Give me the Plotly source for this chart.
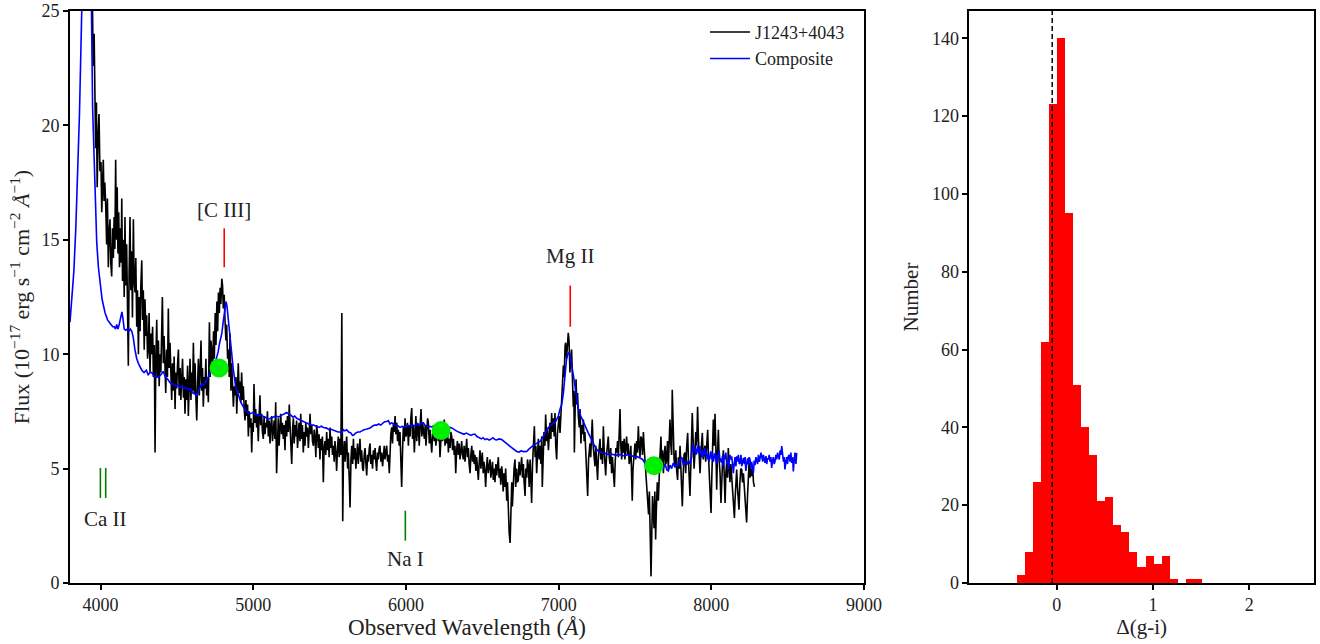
import plotly.graph_objects as go

# ---- spectrum of J1243+4043 (wavelength in A, flux in 1e-17 erg/s/cm2/A)
J1243_POINTS = [
    (3940, 29.0), (3946, 26.5), (3952, 22.6), (3958, 24.0), (3963, 21.1), (3968, 19.0), (3973, 21.0),
    (3978, 17.3), (3984, 19.5), (3990, 20.5), (3996, 18.0), (4003, 18.4), (4008, 16.2), (4013, 18.0),
    (4018, 18.5), (4023, 16.7), (4028, 17.5), (4034, 16.5), (4040, 14.8), (4045, 16.8), (4051, 13.8),
    (4056, 15.3), (4062, 15.9), (4067, 14.0), (4073, 13.4), (4078, 15.5), (4084, 14.2), (4089, 16.0),
    (4094, 14.6), (4099, 18.5), (4104, 15.0), (4109, 17.3), (4114, 14.4), (4119, 16.2), (4124, 13.8),
    (4130, 15.5), (4135, 14.0), (4139, 16.8), (4144, 13.2), (4150, 15.0), (4155, 12.5), (4160, 16.0),
    (4165, 13.0), (4171, 14.8), (4176, 12.0), (4182, 9.5), (4187, 13.5), (4193, 16.0), (4198, 12.8),
    (4204, 14.5), (4209, 11.6), (4215, 15.9), (4220, 13.2), (4226, 12.7), (4231, 14.2), (4237, 11.2),
    (4242, 12.8), (4248, 10.0), (4253, 12.5), (4259, 11.0), (4264, 13.0), (4270, 14.1), (4275, 11.5),
    (4280, 12.8), (4286, 10.2), (4291, 12.4), (4297, 10.8), (4302, 11.7), (4308, 9.8), (4313, 10.3),
    (4318, 11.8), (4324, 9.2), (4330, 10.9), (4335, 10.0), (4341, 11.2), (4346, 9.0), (4352, 10.4),
    (4357, 5.7), (4362, 9.6), (4368, 11.5), (4373, 9.0), (4379, 10.6), (4384, 8.6), (4390, 10.0),
    (4395, 9.2), (4400, 11.0), (4405, 12.5), (4411, 9.6), (4416, 10.8), (4422, 9.5), (4427, 8.3),
    (4433, 10.2), (4438, 9.0), (4444, 12.0), (4449, 9.4), (4455, 10.5), (4460, 8.8), (4466, 8.0),
    (4471, 9.6), (4477, 8.4), (4482, 9.9), (4488, 7.6), (4493, 9.2), (4499, 8.5), (4504, 9.5),
    (4510, 10.2), (4515, 8.2), (4521, 9.4), (4526, 8.0), (4532, 8.7), (4537, 9.8), (4543, 8.1),
    (4548, 9.0), (4553, 7.4), (4559, 8.9), (4564, 8.0), (4570, 9.5), (4575, 7.3), (4581, 8.6),
    (4586, 9.8), (4592, 8.0), (4597, 9.2), (4603, 8.4), (4608, 10.5), (4614, 8.3), (4619, 9.6),
    (4625, 8.0), (4630, 7.1), (4636, 8.8), (4641, 9.8), (4647, 8.2), (4652, 9.3), (4658, 10.6),
    (4663, 8.4), (4668, 9.4), (4673, 7.7), (4679, 9.0), (4684, 8.5), (4690, 9.8), (4695, 8.2),
    (4701, 8.9), (4706, 7.9), (4713, 11.4), (4718, 9.0), (4723, 10.6), (4728, 10.2), (4734, 9.2),
    (4740, 11.0), (4745, 9.8), (4751, 11.8), (4756, 10.4), (4762, 12.3), (4767, 11.0), (4772, 12.7),
    (4778, 11.8), (4783, 12.9), (4788, 12.2), (4794, 13.3), (4799, 13.0), (4804, 12.0), (4810, 12.6),
    (4815, 11.5), (4821, 10.6), (4826, 11.3), (4832, 9.8), (4837, 10.2), (4843, 9.0), (4848, 10.9),
    (4854, 8.4), (4859, 9.6), (4865, 8.8), (4870, 7.7), (4876, 8.6), (4881, 8.2), (4887, 9.0),
    (4892, 7.4), (4897, 8.5), (4902, 9.6), (4908, 8.3), (4913, 8.8), (4919, 7.9), (4924, 9.2),
    (4930, 8.0), (4935, 8.6), (4941, 7.6), (4946, 7.1), (4952, 8.0), (4957, 7.3), (4963, 7.8),
    (4968, 6.4), (4974, 7.5), (4979, 6.8), (4985, 7.2), (4990, 5.7), (4995, 7.0), (5000, 6.6),
    (5005, 8.7), (5011, 7.0), (5016, 7.6), (5022, 6.8), (5027, 7.4), (5033, 6.2), (5038, 7.2),
    (5044, 8.2), (5049, 6.9), (5055, 7.4), (5060, 6.6), (5066, 6.3), (5071, 7.3), (5077, 6.5),
    (5082, 7.0), (5088, 6.8), (5093, 7.5), (5099, 6.4), (5104, 7.1), (5110, 6.1), (5115, 6.9),
    (5121, 7.3), (5126, 6.2), (5132, 6.8), (5137, 7.1), (5142, 6.3), (5147, 7.9), (5153, 4.8),
    (5158, 6.6), (5164, 7.2), (5169, 6.0), (5175, 6.8), (5180, 7.4), (5186, 6.5), (5191, 7.0),
    (5197, 6.3), (5202, 6.9), (5208, 5.8), (5213, 7.1), (5219, 6.4), (5224, 7.3), (5230, 6.6),
    (5236, 7.8), (5241, 6.9), (5247, 6.2), (5252, 5.2), (5258, 6.8), (5263, 7.2), (5268, 6.1),
    (5274, 6.9), (5279, 6.4), (5284, 7.1), (5290, 5.9), (5295, 6.7), (5300, 7.0), (5306, 6.2),
    (5311, 7.4), (5317, 6.3), (5322, 6.9), (5328, 5.7), (5333, 6.6), (5339, 6.0), (5344, 7.0),
    (5350, 6.4), (5355, 6.8), (5361, 5.9), (5366, 6.7), (5372, 7.4), (5377, 6.5), (5383, 6.9),
    (5388, 6.2), (5394, 6.0), (5399, 6.7), (5405, 6.3), (5410, 5.5), (5415, 6.9), (5420, 6.6),
    (5426, 5.9), (5431, 6.5), (5437, 5.4), (5442, 6.3), (5448, 5.8), (5453, 6.4), (5459, 4.4),
    (5464, 5.9), (5470, 6.2), (5475, 5.6), (5481, 6.6), (5486, 5.8), (5492, 6.3), (5497, 5.5),
    (5503, 6.8), (5508, 5.9), (5514, 6.4), (5519, 5.6), (5525, 6.0), (5530, 5.3), (5535, 6.2),
    (5541, 5.7), (5546, 4.9), (5552, 5.9), (5557, 6.4), (5563, 5.5), (5568, 6.3), (5574, 5.6),
    (5580, 11.8), (5586, 2.7), (5591, 5.6), (5597, 6.2), (5602, 5.3), (5607, 6.0), (5612, 6.4),
    (5618, 5.0), (5623, 5.7), (5629, 4.5), (5634, 3.3), (5640, 5.4), (5645, 6.0), (5651, 5.2),
    (5656, 6.3), (5661, 5.4), (5667, 5.9), (5672, 5.0), (5677, 5.5), (5683, 6.1), (5688, 5.2),
    (5694, 5.7), (5699, 6.3), (5705, 5.3), (5710, 5.8), (5716, 5.0), (5721, 4.9), (5727, 5.6),
    (5732, 5.9), (5738, 5.2), (5743, 4.7), (5749, 5.6), (5754, 5.3), (5760, 5.9), (5765, 6.1),
    (5770, 5.2), (5776, 5.6), (5781, 5.0), (5787, 5.8), (5792, 5.4), (5798, 5.9), (5803, 5.3),
    (5808, 4.9), (5814, 5.7), (5819, 5.4), (5825, 5.9), (5830, 6.0), (5836, 5.3), (5841, 5.7),
    (5847, 5.1), (5852, 5.5), (5858, 6.0), (5863, 5.4), (5869, 5.8), (5874, 6.0), (5880, 5.3),
    (5885, 5.6), (5891, 4.8), (5896, 6.0), (5901, 6.5), (5907, 6.8), (5912, 6.1), (5918, 7.0),
    (5923, 6.6), (5929, 7.3), (5934, 6.5), (5940, 7.0), (5945, 6.2), (5950, 6.7), (5956, 6.0),
    (5961, 6.6), (5967, 5.6), (5972, 4.2), (5978, 5.8), (5983, 6.85), (5989, 6.2), (5994, 7.2),
    (6000, 6.4), (6005, 6.56), (6010, 7.0), (6016, 6.0), (6021, 6.9), (6027, 6.4), (6032, 7.2),
    (6038, 7.65), (6043, 6.3), (6049, 6.9), (6055, 5.7), (6060, 6.6), (6065, 7.3), (6071, 6.2),
    (6076, 7.0), (6081, 6.85), (6087, 6.0), (6092, 6.8), (6099, 7.6), (6104, 6.4), (6110, 7.0),
    (6115, 6.6), (6121, 6.3), (6126, 6.9), (6131, 6.0), (6137, 6.7), (6142, 7.2), (6147, 7.0),
    (6153, 6.1), (6158, 6.7), (6164, 6.3), (6169, 5.7), (6175, 6.5), (6180, 6.9), (6186, 6.2),
    (6191, 6.7), (6196, 6.0), (6201, 6.56), (6207, 7.0), (6212, 6.2), (6218, 6.6), (6223, 5.5),
    (6229, 6.4), (6234, 6.9), (6240, 6.2), (6245, 6.6), (6251, 7.14), (6256, 6.0), (6262, 6.5),
    (6267, 6.1), (6272, 6.7), (6278, 5.7), (6283, 6.3), (6289, 5.9), (6294, 6.6), (6300, 6.4),
    (6305, 5.8), (6311, 6.3), (6316, 5.6), (6321, 6.0), (6326, 4.8), (6332, 5.8), (6337, 6.2),
    (6343, 5.6), (6348, 6.1), (6354, 5.4), (6359, 5.9), (6365, 6.2), (6370, 5.6), (6376, 5.4),
    (6381, 6.0), (6387, 5.3), (6392, 5.8), (6398, 6.3), (6403, 5.5), (6409, 5.9), (6414, 5.2),
    (6420, 4.8), (6425, 5.6), (6431, 6.0), (6436, 5.3), (6442, 5.8), (6447, 5.2), (6452, 5.6),
    (6458, 4.9), (6463, 5.5), (6469, 5.0), (6474, 4.5), (6480, 5.3), (6485, 5.8), (6491, 5.0),
    (6496, 5.4), (6500, 5.7), (6506, 4.8), (6511, 5.3), (6517, 4.9), (6522, 4.2), (6528, 5.1),
    (6533, 5.5), (6539, 4.8), (6544, 5.2), (6551, 5.4), (6556, 4.6), (6561, 5.0), (6567, 5.3),
    (6572, 4.5), (6578, 5.0), (6583, 4.4), (6589, 5.2), (6594, 4.7), (6600, 5.1), (6605, 5.5),
    (6610, 4.6), (6616, 5.0), (6621, 4.3), (6627, 5.1), (6631, 4.8), (6637, 4.0), (6642, 4.8),
    (6648, 4.2), (6653, 5.0), (6660, 3.6), (6665, 4.4), (6671, 2.8), (6676, 2.2), (6682, 1.75),
    (6687, 3.0), (6693, 4.4), (6697, 3.35), (6703, 4.6), (6708, 5.0), (6714, 5.4), (6719, 4.2),
    (6725, 5.0), (6730, 4.4), (6736, 4.5), (6741, 5.3), (6747, 4.7), (6752, 5.1), (6758, 5.5),
    (6763, 4.6), (6769, 5.2), (6774, 4.4), (6780, 3.8), (6785, 5.0), (6791, 4.6), (6796, 5.4),
    (6802, 5.1), (6807, 4.2), (6813, 5.4), (6818, 4.6), (6823, 3.5), (6829, 5.2), (6834, 5.9),
    (6841, 6.85), (6846, 5.5), (6851, 6.0), (6856, 4.8), (6862, 5.6), (6867, 6.3), (6873, 5.4),
    (6878, 6.0), (6884, 5.2), (6889, 6.4), (6893, 4.2), (6899, 5.8), (6904, 6.6), (6910, 6.0),
    (6915, 7.36), (6921, 6.2), (6926, 6.8), (6933, 5.8), (6938, 6.6), (6943, 7.0), (6949, 6.3),
    (6954, 7.43), (6960, 6.6), (6965, 7.2), (6971, 6.4), (6976, 7.43), (6981, 6.0), (6987, 5.4),
    (6992, 6.5), (6998, 6.85), (7003, 7.3), (7009, 6.56), (7014, 7.5), (7020, 8.0), (7025, 8.7),
    (7031, 9.5), (7036, 9.0), (7042, 10.35), (7046, 10.5), (7052, 9.8), (7057, 10.4), (7063, 10.93),
    (7068, 10.6), (7074, 9.2), (7079, 9.8), (7085, 10.2), (7090, 9.0), (7096, 7.7), (7100, 8.4),
    (7103, 5.7), (7108, 7.6), (7114, 8.9), (7119, 7.8), (7124, 8.3), (7129, 7.3), (7135, 6.8),
    (7140, 7.6), (7146, 6.1), (7151, 6.9), (7157, 6.5), (7162, 7.14), (7167, 6.2), (7172, 6.6),
    (7177, 5.7), (7182, 5.0), (7187, 4.4), (7190, 3.8), (7196, 5.4), (7200, 6.0), (7205, 6.1),
    (7210, 5.5), (7215, 6.5), (7220, 7.14), (7226, 6.0), (7231, 5.6), (7238, 5.1), (7243, 6.0),
    (7249, 5.4), (7255, 4.5), (7260, 5.5), (7265, 5.9), (7271, 6.3), (7276, 5.4), (7282, 5.9),
    (7287, 5.2), (7293, 6.85), (7298, 5.8), (7303, 5.3), (7308, 4.7), (7314, 5.6), (7319, 6.0),
    (7325, 6.4), (7330, 5.6), (7336, 5.2), (7341, 5.9), (7347, 4.8), (7352, 5.5), (7358, 5.0),
    (7365, 4.2), (7370, 5.2), (7375, 5.9), (7380, 5.7), (7386, 6.2), (7391, 5.5), (7397, 6.6),
    (7402, 7.6), (7407, 6.0), (7413, 5.4), (7418, 6.2), (7423, 5.7), (7429, 6.3), (7434, 5.4),
    (7440, 6.0), (7445, 6.4), (7451, 5.6), (7456, 6.1), (7462, 5.2), (7467, 5.4), (7473, 6.0),
    (7478, 4.8), (7482, 3.6), (7487, 5.0), (7493, 5.8), (7500, 6.1), (7505, 5.4), (7511, 6.2),
    (7516, 5.7), (7522, 6.85), (7527, 6.0), (7533, 5.5), (7538, 6.4), (7544, 6.3), (7549, 5.6),
    (7555, 6.6), (7560, 5.9), (7565, 5.4), (7571, 5.0), (7576, 4.6), (7583, 3.6), (7589, 3.0),
    (7594, 4.0), (7598, 2.5), (7605, 0.29), (7610, 2.2), (7615, 3.8), (7620, 3.06), (7625, 2.4),
    (7630, 4.0), (7635, 1.9), (7640, 3.2), (7646, 4.4), (7653, 3.6), (7658, 4.8), (7664, 5.6),
    (7670, 6.4), (7675, 5.2), (7680, 5.8), (7686, 4.8), (7691, 5.6), (7697, 6.0), (7702, 5.2),
    (7707, 5.4), (7713, 6.2), (7718, 4.9), (7723, 6.0), (7729, 7.14), (7735, 6.0), (7740, 5.6),
    (7744, 8.45), (7750, 6.0), (7756, 5.4), (7762, 5.1), (7767, 5.8), (7773, 4.9), (7779, 4.5),
    (7784, 5.5), (7790, 5.0), (7795, 6.0), (7800, 5.2), (7806, 4.0), (7810, 3.35), (7816, 4.8),
    (7821, 5.6), (7827, 5.7), (7832, 4.8), (7838, 5.9), (7845, 6.56), (7850, 5.4), (7855, 4.6),
    (7860, 3.8), (7866, 5.2), (7871, 6.4), (7875, 7.43), (7881, 6.2), (7887, 5.0), (7893, 5.8),
    (7898, 6.6), (7904, 6.0), (7910, 7.7), (7915, 6.4), (7920, 5.6), (7926, 4.8), (7931, 5.6),
    (7936, 6.0), (7941, 6.56), (7947, 5.4), (7952, 5.8), (7958, 6.0), (7963, 5.3), (7969, 6.2),
    (7976, 6.7), (7981, 5.6), (7987, 4.6), (7993, 4.0), (7998, 3.06), (8003, 4.6), (8008, 5.8),
    (8013, 7.14), (8019, 6.0), (8024, 7.4), (8030, 5.8), (8035, 4.08), (8040, 5.6), (8046, 6.7),
    (8051, 5.4), (8057, 4.8), (8063, 3.5), (8068, 4.6), (8074, 5.4), (8079, 5.8), (8085, 4.8),
    (8090, 3.5), (8095, 4.8), (8101, 5.3), (8106, 4.6), (8111, 5.9), (8117, 5.0), (8122, 4.4),
    (8128, 5.2), (8133, 4.67), (8139, 4.0), (8144, 3.4), (8151, 2.84), (8155, 3.6), (8160, 4.4),
    (8166, 4.96), (8171, 4.2), (8176, 3.8), (8181, 3.2), (8187, 4.4), (8193, 5.0), (8199, 4.96),
    (8204, 4.4), (8210, 4.8), (8216, 4.08), (8221, 3.5), (8226, 3.0), (8231, 2.65), (8237, 3.8),
    (8242, 4.6), (8247, 5.25), (8253, 4.6), (8258, 5.0), (8264, 4.67), (8270, 5.1), (8276, 4.4),
    (8282, 4.2),
]

# ---- composite quasar spectrum, scaled
COMPOSITE_POINTS = [
    (3800, 11.4), (3812, 12.3), (3825, 13.6), (3838, 15.5), (3850, 17.8), (3862, 20.5), (3872, 23.5),
    (3882, 27.0), (3892, 31.0), (3905, 35.0), (3915, 36.5), (3925, 34.0), (3932, 29.0), (3937, 25.5),
    (3942, 22.6), (3948, 20.8), (3953, 19.7), (3959, 18.1), (3964, 16.8), (3970, 15.7), (3975, 14.9),
    (3986, 13.8), (3997, 13.0), (4010, 12.4), (4030, 11.8), (4046, 11.5), (4062, 11.35), (4080, 11.2),
    (4090, 11.2), (4098, 11.1), (4106, 11.3), (4114, 11.1), (4122, 11.3), (4132, 11.7), (4140, 11.85),
    (4148, 11.5), (4155, 11.1), (4165, 11.05), (4175, 11.1), (4185, 11.0), (4195, 11.1), (4205, 11.0),
    (4215, 10.7), (4225, 10.2), (4237, 9.8), (4248, 9.6), (4260, 9.4), (4270, 9.3), (4285, 9.2),
    (4300, 9.3), (4312, 9.1), (4325, 9.2), (4335, 9.2), (4350, 9.05), (4365, 9.0), (4379, 9.0),
    (4395, 9.1), (4411, 9.25), (4425, 9.0), (4440, 8.9), (4455, 8.75), (4466, 8.7), (4480, 8.7),
    (4495, 8.6), (4510, 8.65), (4520, 8.55), (4532, 8.6), (4545, 8.5), (4560, 8.55), (4575, 8.45),
    (4590, 8.5), (4605, 8.3), (4620, 8.25), (4630, 8.2), (4640, 8.35), (4650, 8.5), (4662, 8.7),
    (4675, 8.65), (4690, 8.8), (4705, 9.0), (4717, 9.2), (4730, 9.3), (4740, 9.4), (4750, 9.6),
    (4760, 9.8), (4770, 10.1), (4780, 10.5), (4794, 10.9), (4805, 11.5), (4815, 12.0), (4822, 12.3),
    (4828, 12.1), (4835, 11.6), (4842, 11.2), (4848, 10.9), (4858, 10.0), (4870, 9.3), (4885, 8.6),
    (4902, 8.2), (4918, 7.9), (4935, 7.7), (4955, 7.5), (4979, 7.4), (5000, 7.45), (5020, 7.35),
    (5044, 7.35), (5060, 7.3), (5080, 7.25), (5095, 7.15), (5110, 7.2), (5130, 7.25), (5150, 7.3),
    (5165, 7.25), (5175, 7.3), (5190, 7.35), (5205, 7.4), (5218, 7.45), (5230, 7.4), (5245, 7.35),
    (5260, 7.25), (5272, 7.3), (5284, 7.2), (5300, 7.15), (5315, 7.1), (5330, 7.05), (5350, 7.0),
    (5365, 6.95), (5380, 6.9), (5395, 6.9), (5415, 6.85), (5430, 6.8), (5445, 6.85), (5460, 6.8),
    (5481, 6.77), (5495, 6.7), (5510, 6.72), (5525, 6.67), (5540, 6.65), (5555, 6.6), (5568, 6.6),
    (5580, 6.55), (5590, 6.7), (5600, 6.65), (5612, 6.7), (5625, 6.6), (5640, 6.55), (5650, 6.45),
    (5660, 6.48), (5670, 6.55), (5685, 6.6), (5699, 6.6), (5712, 6.65), (5725, 6.7), (5740, 6.72),
    (5755, 6.75), (5765, 6.77), (5780, 6.85), (5795, 6.9), (5808, 6.9), (5822, 6.95), (5835, 6.9),
    (5848, 7.0), (5860, 7.05), (5874, 7.06), (5885, 7.1), (5895, 6.95), (5905, 7.0), (5918, 6.96),
    (5930, 6.88), (5940, 6.9), (5950, 6.85), (5962, 6.8), (5975, 6.85), (5994, 6.82), (6010, 6.9),
    (6025, 6.85), (6040, 6.9), (6059, 6.88), (6075, 6.95), (6090, 6.9), (6105, 7.0), (6114, 7.0),
    (6125, 6.9), (6135, 6.85), (6147, 6.82), (6160, 6.85), (6175, 6.8), (6190, 6.8), (6212, 6.78),
    (6230, 6.75), (6245, 6.8), (6260, 6.7), (6275, 6.75), (6290, 6.8), (6300, 6.78), (6315, 6.7),
    (6330, 6.65), (6345, 6.6), (6365, 6.56), (6380, 6.5), (6395, 6.55), (6410, 6.5), (6425, 6.45),
    (6440, 6.5), (6452, 6.5), (6465, 6.4), (6480, 6.35), (6495, 6.3), (6505, 6.35), (6518, 6.27),
    (6530, 6.3), (6545, 6.25), (6560, 6.3), (6570, 6.35), (6583, 6.27), (6595, 6.25), (6610, 6.3),
    (6627, 6.27), (6640, 6.2), (6655, 6.1), (6668, 6.05), (6682, 5.97), (6695, 5.9), (6710, 5.8),
    (6725, 5.75), (6740, 5.72), (6755, 5.78), (6770, 5.74), (6791, 5.75), (6805, 5.85), (6823, 5.97),
    (6840, 6.05), (6855, 6.1), (6865, 6.15), (6878, 6.19), (6890, 6.3), (6900, 6.45), (6911, 6.56),
    (6925, 6.7), (6940, 6.85), (6954, 6.92), (6965, 7.0), (6976, 7.0), (6987, 7.14), (6998, 7.3),
    (7009, 7.6), (7020, 7.8), (7031, 8.3), (7040, 9.0), (7052, 9.8), (7060, 10.0), (7068, 10.06),
    (7076, 9.9), (7085, 9.6), (7096, 9.1), (7107, 8.6), (7118, 8.1), (7129, 7.6), (7145, 7.3),
    (7162, 7.0), (7178, 6.8), (7194, 6.56), (7210, 6.35), (7227, 6.1), (7243, 5.9), (7260, 5.75),
    (7280, 5.7), (7303, 5.68), (7320, 5.62), (7340, 5.65), (7358, 5.6), (7375, 5.58), (7395, 5.62),
    (7413, 5.6), (7430, 5.55), (7450, 5.6), (7465, 5.58), (7478, 5.57), (7495, 5.5), (7515, 5.52),
    (7533, 5.46), (7550, 5.4), (7565, 5.25), (7580, 5.15), (7595, 5.0), (7610, 4.9), (7625, 4.85),
    (7635, 4.75), (7645, 4.95), (7655, 5.05), (7665, 4.9), (7675, 5.1), (7685, 5.0), (7697, 5.2),
    (7708, 4.95), (7718, 4.9), (7730, 5.15), (7740, 5.0), (7751, 5.25), (7762, 5.05), (7773, 5.2),
    (7784, 5.1), (7795, 5.4), (7806, 5.5), (7817, 5.15), (7828, 5.3), (7839, 5.17), (7850, 5.35),
    (7860, 5.2), (7871, 5.5), (7877, 6.0), (7882, 6.05), (7888, 5.7), (7893, 5.85), (7899, 5.6),
    (7904, 5.9), (7910, 6.0), (7915, 5.65), (7920, 5.9), (7926, 5.97), (7931, 5.7), (7937, 5.5),
    (7942, 5.8), (7947, 5.5), (7953, 5.6), (7958, 5.9), (7963, 5.6), (7969, 5.75), (7975, 5.4),
    (7980, 5.6), (7985, 5.3), (7991, 5.5), (7996, 5.75), (8002, 5.4), (8008, 5.7), (8013, 5.3),
    (8019, 5.6), (8024, 5.68), (8030, 5.45), (8035, 5.2), (8040, 5.6), (8046, 5.54), (8051, 5.8),
    (8057, 5.3), (8062, 5.45), (8068, 5.25), (8073, 5.55), (8079, 5.1), (8084, 5.6), (8090, 5.4),
    (8095, 5.7), (8101, 5.2), (8106, 5.35), (8111, 4.96), (8117, 5.3), (8122, 5.6), (8128, 5.4),
    (8133, 5.54), (8139, 5.2), (8144, 4.8), (8150, 5.2), (8155, 5.5), (8161, 5.1), (8166, 5.54),
    (8172, 5.3), (8177, 5.6), (8183, 5.2), (8188, 5.25), (8194, 5.6), (8199, 5.1), (8205, 5.3),
    (8210, 5.47), (8216, 5.2), (8221, 5.5), (8226, 4.9), (8231, 5.1), (8237, 5.45), (8242, 5.2),
    (8248, 5.5), (8253, 5.4), (8259, 5.0), (8264, 5.3), (8270, 5.1), (8275, 4.8), (8281, 5.35),
    (8286, 5.15), (8292, 5.5), (8297, 5.4), (8303, 5.2), (8308, 5.6), (8314, 5.3), (8319, 5.45),
    (8325, 5.7), (8330, 5.54), (8336, 5.3), (8341, 5.6), (8347, 5.4), (8352, 5.25), (8358, 5.55),
    (8363, 5.2), (8368, 5.45), (8373, 5.4), (8379, 5.6), (8384, 5.3), (8390, 5.5), (8395, 5.03),
    (8401, 5.35), (8406, 5.5), (8412, 5.2), (8417, 5.32), (8423, 5.6), (8428, 5.4), (8434, 5.7),
    (8439, 5.54), (8445, 5.4), (8450, 5.8), (8456, 5.6), (8461, 5.98), (8466, 5.7), (8472, 5.3),
    (8477, 5.5), (8482, 4.96), (8488, 5.3), (8493, 5.5), (8499, 5.2), (8504, 5.54), (8510, 5.6),
    (8515, 5.3), (8521, 5.7), (8526, 5.25), (8532, 5.5), (8537, 4.88), (8543, 5.4), (8548, 5.7),
    (8554, 5.2), (8559, 5.68),
]

j1243_wave = [p[0] for p in J1243_POINTS]
j1243_flux = [p[1] for p in J1243_POINTS]
comp_wave = [p[0] for p in COMPOSITE_POINTS]
comp_flux = [p[1] for p in COMPOSITE_POINTS]

# photometric points (green dots)
phot_wave = [4776, 6230, 7624]
phot_flux = [9.4, 6.66, 5.13]

# emission line markers (red) and absorption markers (green)
emis_names = ["[C III]", "Mg II"]
emis_wave = [4810, 7076]
emis_tick = [(13.8, 15.5), (11.2, 13.0)]
emis_label_flux = [16.3, 14.3]

absn_names = ["Ca II", "Na I"]
absn_waves = [[3999, 4034], [5996]]
absn_tick = [(3.72, 5.03), (1.85, 3.16)]
absn_label_wave = [4030, 5996]
absn_label_flux = [2.8, 1.06]

# histogram of delta(g-i)
hist_edges = [-0.409, -0.326, -0.242, -0.159, -0.075, 0.008, 0.092, 0.175, 0.258, 0.342,
              0.425, 0.509, 0.592, 0.676, 0.759, 0.842, 0.926, 1.009, 1.093, 1.176,
              1.259, 1.343, 1.426, 1.510]
hist_counts = [2, 8, 26, 62, 123, 140, 95, 51, 40, 33, 21, 22, 15, 13, 8, 4, 7, 5, 7, 1, 0, 1, 1]
j1243_dgi = -0.046

FONT = "Liberation Serif, Times New Roman, serif"

fig = go.Figure()

fig.add_trace(go.Scatter(x=j1243_wave, y=j1243_flux, mode="lines", name="J1243+4043",
                         line=dict(color="black", width=1.6), xaxis="x", yaxis="y"))
fig.add_trace(go.Scatter(x=comp_wave, y=comp_flux, mode="lines", name="Composite",
                         line=dict(color="#0000ff", width=1.6), xaxis="x", yaxis="y"))
fig.add_trace(go.Scatter(x=phot_wave, y=phot_flux, mode="markers", showlegend=False,
                         marker=dict(color="#00ee00", size=19), xaxis="x", yaxis="y"))

annotations = []
for name, w, (y0, y1), ly in zip(emis_names, emis_wave, emis_tick, emis_label_flux):
    fig.add_trace(go.Scatter(x=[w, w], y=[y0, y1], mode="lines", showlegend=False,
                             line=dict(color="red", width=1.6), xaxis="x", yaxis="y"))
    annotations.append(dict(x=w, y=ly, xref="x", yref="y", text=name, showarrow=False,
                            font=dict(size=21, color="#222")))
for name, ws, (y0, y1), lw, ly in zip(absn_names, absn_waves, absn_tick, absn_label_wave, absn_label_flux):
    for w in ws:
        fig.add_trace(go.Scatter(x=[w, w], y=[y0, y1], mode="lines", showlegend=False,
                                 line=dict(color="green", width=1.6), xaxis="x", yaxis="y"))
    annotations.append(dict(x=lw, y=ly, xref="x", yref="y", text=name, showarrow=False,
                            font=dict(size=21, color="#222")))

# histogram as bars between the bin edges
centers = [(a + b) / 2 for a, b in zip(hist_edges[:-1], hist_edges[1:])]
widths = [b - a for a, b in zip(hist_edges[:-1], hist_edges[1:])]
fig.add_trace(go.Bar(x=centers, y=hist_counts, width=widths, marker=dict(color="#ff0000", line=dict(width=0)),
                     showlegend=False, xaxis="x2", yaxis="y2"))
fig.add_trace(go.Scatter(x=[j1243_dgi, j1243_dgi], y=[0, 147], mode="lines", showlegend=False,
                         line=dict(color="black", width=1.5, dash="5px,3px"), xaxis="x2", yaxis="y2"))

axis_common = dict(showline=True, linecolor="black", linewidth=1.6, mirror=True, ticks="outside",
                   ticklen=5, tickwidth=1.5, tickcolor="black", showgrid=False, zeroline=False,
                   automargin=False, ticklabeloverflow="allow",
                   tickfont=dict(family=FONT, size=18, color="#222"))

fig.update_layout(
    width=1320, height=644,
    margin=dict(l=70, r=6, t=11, b=61, autoexpand=False),
    plot_bgcolor="white", paper_bgcolor="white",
    font=dict(family=FONT, size=18, color="#222"),
    bargap=0,
    xaxis=dict(domain=[0, 0.6383], range=[3800, 9000], tickvals=[4000, 5000, 6000, 7000, 8000, 9000],
               title=dict(text="Observed Wavelength (<i>Å</i>)", font=dict(size=23), standoff=3),
               anchor="y", **axis_common),
    yaxis=dict(domain=[0, 1], range=[0, 25], tickvals=[0, 5, 10, 15, 20, 25],
               title=dict(text="Flux (10<sup>−17</sup> erg s<sup>−1</sup> cm<sup>−2</sup> <i>Å</i><sup>−1</sup>)",
                          font=dict(size=22), standoff=6),
               anchor="x", **axis_common),
    xaxis2=dict(domain=[0.7229, 1.0], range=[-0.907, 2.672], tickvals=[0, 1, 2],
                title=dict(text="Δ(g-i)", font=dict(size=21), standoff=4), anchor="y2", **axis_common),
    yaxis2=dict(domain=[0, 1], range=[0, 147], tickvals=[0, 20, 40, 60, 80, 100, 120, 140],
                title=dict(text="Number", font=dict(size=21), standoff=8), anchor="x2", **axis_common),
    legend=dict(x=0.627, xanchor="right", y=0.995, yanchor="top", bgcolor="rgba(0,0,0,0)",
                itemwidth=40, font=dict(family=FONT, size=18, color="#222"), tracegroupgap=0),
    annotations=annotations,
)

# drop the default 8px page margin so the figure fills the window exactly
fig.write_html("out.html", config={"displayModeBar": False},
               post_script="document.body.style.margin = '0';")
